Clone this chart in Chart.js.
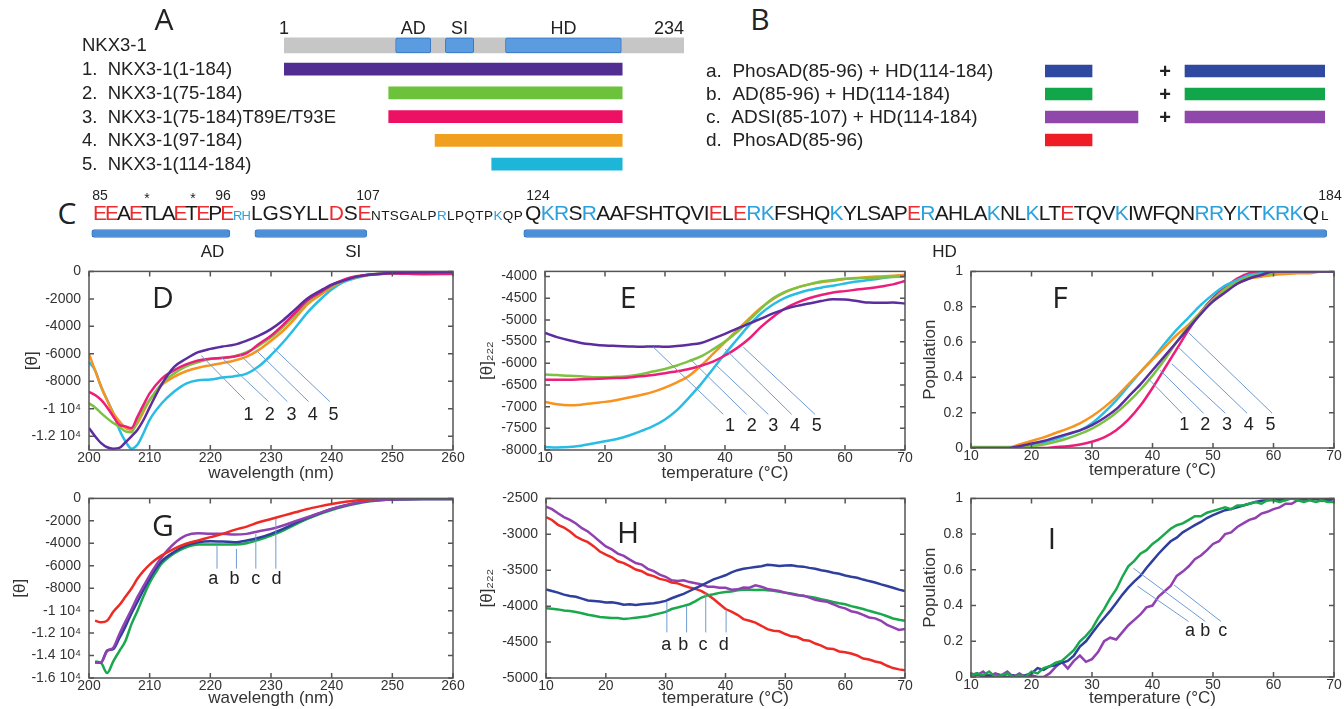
<!DOCTYPE html>
<html>
<head>
<meta charset="utf-8">
<title>NKX3-1 CD panels</title>
<script src="https://cdn.jsdelivr.net/npm/chart.js@4.4.0/dist/chart.umd.min.js"></script>
<style>
  html, body { margin: 0; background: #fff; }
  body { position: relative; width: 1344px; height: 709px; overflow: hidden; font-family: "Liberation Sans", Arial, sans-serif; color: #222; }
  canvas { position: absolute; }
  .pl { position: absolute; font-family: "Open Sans", "DejaVu Sans", sans-serif; font-size: 30px; line-height: 1; transform: translate(-50%, -50%); }
  .seq { position: absolute; line-height: 1.117; white-space: nowrap; }
  .num { position: absolute; font-size: 14px; line-height: 1; transform: translate(-50%, -50%); }
</style>
</head>
<body>
<script>
const aRows = ['NKX3-1', '1.  NKX3-1(1-184)', '2.  NKX3-1(75-184)', '3.  NKX3-1(75-184)T89E/T93E', '4.  NKX3-1(97-184)', '5.  NKX3-1(114-184)'];
const aBackbone = [1, 234];
const aConstructStart = [1, 62, 62, 89, 122];
const aConstructEnd = [198, 198, 198, 198, 198];
const aDomains = ['AD', 'SI', 'HD'];
const aDomainStart = [66, 95, 130];
const aDomainEnd = [86.5, 111.5, 197.5];

// ---------- panel B: peptide mixtures
const bRows = ['a.  PhosAD(85-96) + HD(114-184)', 'b.  AD(85-96) + HD(114-184)', 'c.  ADSI(85-107) + HD(114-184)', 'd.  PhosAD(85-96)'];
const bPeptideStart = [0, 0, 0, 0];
const bPeptideEnd = [16.8, 16.8, 33.2, 16.8];
const bHdStart = [50, 50, 50, null];
const bHdEnd = [100, 100, 100, null];

// ---------- panel C: sequence and domain bars (% of sequence line)
const seqParts = ['EEAETLAETEPE', 'RH', 'LGSYLLDSE', 'NTSGALPRLPQTPKQP', 'QKRSRAAFSHTQVIELERKFSHQKYLSAPERAHLAKNLKLTETQVKIWFQNRRYKTKRKQ', 'L'];
const seqNumbers = ['85', '*', '*', '96', '99', '107', '124', '184'];
const cDomains = ['AD', 'SI', 'HD'];
const cDomainStart = [0.3, 13.4, 35.0];
const cDomainEnd = [11.4, 22.4, 99.5];

// ---------- panel D: CD spectra of constructs 1-5
const dWavelength = [200, 201, 202, 203, 204, 205, 206, 207, 208, 209, 210, 212, 214, 216, 218, 220, 222, 224, 226, 228, 230, 232, 234, 236, 238, 240, 242, 244, 246, 248, 250, 255, 260];
const dNkx1 = [-11400, -12000, -12500, -12800, -12900, -12850, -12440, -12000, -11520, -10800, -9900, -8200, -6960, -6360, -5880, -5640, -5470, -5330, -5040, -4680, -4200, -3550, -2760, -1970, -1440, -960, -670, -400, -240, -170, -120, -60, -50];
const dNkx2 = [-9600, -9900, -10320, -10700, -11040, -11300, -11640, -11700, -10800, -10000, -9360, -8160, -7440, -6910, -6600, -6380, -6310, -6170, -5880, -5400, -4800, -4030, -3150, -2210, -1600, -1080, -650, -400, -250, -170, -120, -80, -80];
const dNkx3 = [-8760, -9000, -9360, -9900, -10560, -11160, -11280, -11400, -10560, -9700, -8880, -7800, -7200, -6770, -6480, -6360, -6290, -6190, -5950, -5280, -4680, -3890, -3000, -2110, -1560, -1000, -600, -360, -250, -200, -150, -200, -190];
const dNkx4 = [-6000, -7200, -8400, -9400, -10320, -10900, -11400, -11520, -11040, -10200, -9360, -8280, -7680, -7270, -7010, -6840, -6670, -6480, -6200, -5710, -5050, -4320, -3400, -2400, -1750, -1150, -670, -420, -260, -170, -120, -80, -80];
const dNkx5 = [-6600, -7200, -8400, -9360, -10320, -11520, -12360, -12900, -12600, -11760, -10800, -9600, -8760, -8160, -7920, -7870, -7730, -7630, -7440, -6910, -6100, -5160, -4100, -3000, -2100, -1320, -770, -480, -280, -170, -120, -80, -80];

// ---------- panel E: [θ]222 melts
const eTemp = [10, 12, 14, 16, 18, 20, 22, 24, 26, 28, 30, 32, 34, 36, 38, 40, 42, 44, 46, 48, 50, 52, 54, 56, 58, 60, 62, 64, 66, 68, 70];
const eNkx1 = [-5300, -5395, -5470, -5530, -5565, -5590, -5600, -5610, -5620, -5610, -5620, -5600, -5570, -5530, -5430, -5320, -5200, -5085, -4970, -4850, -4750, -4675, -4620, -4565, -4520, -4530, -4565, -4600, -4605, -4600, -4620];
const eNkx2 = [-6260, -6270, -6290, -6300, -6320, -6320, -6310, -6290, -6250, -6190, -6130, -6050, -5950, -5840, -5680, -5500, -5280, -5010, -4740, -4500, -4350, -4255, -4180, -4115, -4080, -4050, -4040, -4030, -4020, -4010, -4000];
const eNkx3 = [-6380, -6380, -6380, -6370, -6360, -6350, -6340, -6325, -6300, -6270, -6230, -6185, -6130, -6055, -5960, -5820, -5650, -5435, -5160, -4930, -4735, -4600, -4500, -4425, -4365, -4335, -4300, -4270, -4230, -4180, -4100];
const eNkx4 = [-6890, -6945, -6970, -6955, -6920, -6890, -6845, -6790, -6730, -6660, -6560, -6440, -6290, -6055, -5785, -5510, -5240, -4970, -4720, -4520, -4365, -4255, -4180, -4130, -4095, -4055, -4030, -4010, -3995, -3980, -3960];
const eNkx5 = [-7930, -7940, -7930, -7900, -7850, -7800, -7745, -7665, -7565, -7450, -7295, -7080, -6790, -6480, -6130, -5780, -5450, -5125, -4850, -4645, -4490, -4390, -4310, -4255, -4210, -4160, -4115, -4080, -4040, -4000, -3960];

// ---------- panel F: unfolded population
const fTemp = eTemp;
const fNkx1 = [0, 0, 0, 0, 0.01, 0.025, 0.04, 0.06, 0.08, 0.1, 0.13, 0.17, 0.22, 0.29, 0.36, 0.44, 0.52, 0.6, 0.68, 0.76, 0.83, 0.88, 0.93, 0.96, 0.98, 1, 1, 1, 1, 1, 1];
const fNkx2 = [0.005, 0.005, 0.005, 0.005, 0.005, 0.01, 0.02, 0.035, 0.055, 0.08, 0.11, 0.15, 0.2, 0.26, 0.33, 0.41, 0.5, 0.6, 0.69, 0.77, 0.84, 0.9, 0.94, 0.97, 0.98, 0.99, 1, 1, 1, 1, 1];
const fNkx3 = [0, 0, 0, 0, 0, 0, 0, 0.005, 0.01, 0.02, 0.035, 0.06, 0.1, 0.16, 0.24, 0.34, 0.45, 0.56, 0.67, 0.77, 0.85, 0.91, 0.96, 0.99, 1, 1, 1, 1, 1, 1, 1];
const fNkx4 = [0, 0, 0, 0, 0.02, 0.04, 0.06, 0.085, 0.11, 0.14, 0.18, 0.23, 0.29, 0.36, 0.43, 0.5, 0.57, 0.64, 0.7, 0.77, 0.83, 0.89, 0.93, 0.96, 0.97, 0.98, 0.985, 0.99, 0.99, 1, 1];
const fNkx5 = [0, 0, 0, 0, 0.01, 0.015, 0.03, 0.05, 0.076, 0.1, 0.14, 0.2, 0.27, 0.35, 0.43, 0.505, 0.59, 0.67, 0.74, 0.81, 0.87, 0.92, 0.95, 0.98, 0.99, 1, 1, 1, 1, 1, 1];

// ---------- panel G: CD spectra of peptide mixtures a-d
const gWavelength = [201, 202, 203, 204, 205, 206, 207, 208, 209, 210, 211, 212, 214, 216, 218, 220, 222, 224, 226, 228, 230, 232, 234, 236, 238, 240, 242, 244, 246, 248, 250, 255, 260];
const gMixA = [-14610, -14590, -13550, -13430, -12460, -11420, -10240, -9210, -8120, -7140, -6260, -5580, -4780, -4190, -3900, -3810, -3840, -3900, -3750, -3510, -3160, -2720, -2210, -1740, -1330, -945, -650, -410, -240, -150, -100, -60, -60];
const gMixB = [-14520, -14670, -15560, -14520, -13600, -12700, -11200, -10000, -8700, -7500, -6600, -5800, -4900, -4350, -4100, -4100, -4100, -4100, -3990, -3690, -3310, -2860, -2330, -1830, -1390, -1030, -720, -470, -280, -170, -100, -60, -60];
const gMixC = [-14600, -14590, -13600, -13300, -12100, -10980, -9900, -8770, -7800, -6850, -6000, -5230, -4040, -3300, -3100, -3160, -3160, -3220, -3160, -2920, -2720, -2420, -2040, -1680, -1300, -945, -650, -410, -240, -150, -100, -60, -60];
const gMixD = [-10890, -11040, -10890, -10100, -9500, -8770, -8030, -7140, -6460, -5900, -5450, -5080, -4490, -4040, -3750, -3450, -3160, -2800, -2510, -2130, -1830, -1535, -1240, -945, -710, -500, -325, -180, -90, -40, -30, -30, -30];

// ---------- panel H: [θ]222 melts of mixtures (1 °C steps)
const hTemp = [10, 11, 12, 13, 14, 15, 16, 17, 18, 19, 20, 21, 22, 23, 24, 25, 26, 27, 28, 29, 30, 31, 32, 33, 34, 35, 36, 37, 38, 39, 40, 41, 42, 43, 44, 45, 46, 47, 48, 49, 50, 51, 52, 53, 54, 55, 56, 57, 58, 59, 60, 61, 62, 63, 64, 65, 66, 67, 68, 69, 70];
const hMixA = [-3766, -3790, -3812, -3840, -3858, -3870, -3895, -3920, -3927, -3935, -3950, -3945, -3960, -3980, -3973, -3985, -3973, -3965, -3960, -3945, -3927, -3890, -3858, -3830, -3789, -3750, -3711, -3670, -3628, -3600, -3570, -3530, -3499, -3480, -3467, -3455, -3444, -3425, -3430, -3440, -3435, -3430, -3444, -3450, -3467, -3480, -3499, -3515, -3536, -3550, -3573, -3590, -3605, -3630, -3651, -3670, -3697, -3720, -3743, -3770, -3789];
const hMixB = [-4030, -4035, -4045, -4060, -4068, -4080, -4098, -4120, -4134, -4150, -4157, -4165, -4166, -4178, -4170, -4160, -4150, -4140, -4120, -4100, -4080, -4040, -4019, -3996, -3973, -3930, -3880, -3850, -3835, -3815, -3803, -3795, -3780, -3770, -3770, -3775, -3770, -3780, -3785, -3800, -3812, -3825, -3840, -3860, -3870, -3881, -3904, -3920, -3941, -3960, -3973, -4000, -4019, -4040, -4065, -4088, -4111, -4140, -4171, -4190, -4203];
const hMixC = [-2615, -2650, -2707, -2760, -2799, -2850, -2914, -2960, -3029, -3100, -3168, -3210, -3269, -3300, -3352, -3400, -3421, -3480, -3513, -3560, -3591, -3640, -3651, -3640, -3665, -3680, -3697, -3730, -3729, -3745, -3743, -3770, -3766, -3740, -3743, -3710, -3729, -3760, -3775, -3790, -3812, -3830, -3849, -3850, -3881, -3910, -3927, -3940, -3973, -4010, -4030, -4070, -4088, -4120, -4157, -4170, -4203, -4260, -4296, -4330, -4319];
const hMixD = [-2762, -2800, -2868, -2905, -2960, -3030, -3075, -3110, -3168, -3240, -3283, -3320, -3375, -3400, -3444, -3490, -3513, -3560, -3582, -3620, -3637, -3670, -3683, -3715, -3740, -3760, -3790, -3840, -3900, -3970, -4040, -4075, -4120, -4180, -4203, -4230, -4273, -4320, -4342, -4350, -4388, -4420, -4430, -4470, -4480, -4520, -4549, -4590, -4595, -4630, -4641, -4660, -4687, -4730, -4742, -4770, -4788, -4830, -4862, -4880, -4894];

// ---------- panel I: unfolded population of mixtures
const iTemp = hTemp;
const iMixA = [0.01, 0.02, 0, 0.01, 0, 0.01, 0, 0.01, 0, 0.01, 0.02, 0.05, 0.04, 0.06, 0.066, 0.08, 0.09, 0.12, 0.17, 0.2, 0.245, 0.29, 0.33, 0.37, 0.415, 0.46, 0.5, 0.535, 0.566, 0.61, 0.65, 0.69, 0.726, 0.76, 0.78, 0.81, 0.83, 0.85, 0.868, 0.89, 0.906, 0.92, 0.934, 0.94, 0.95, 0.96, 0.97, 0.98, 0.987, 0.99, 0.994, 0.99, 1, 1, 1, 1, 0.995, 1, 1, 0.99, 1];
const iMixB = [0.01, 0.02, 0.01, 0.03, 0, 0.01, 0.02, 0, 0.01, 0, 0.03, 0.02, 0.05, 0.06, 0.08, 0.09, 0.12, 0.15, 0.2, 0.23, 0.27, 0.33, 0.38, 0.44, 0.49, 0.56, 0.62, 0.65, 0.69, 0.71, 0.745, 0.77, 0.8, 0.83, 0.85, 0.86, 0.88, 0.9, 0.9, 0.92, 0.93, 0.94, 0.95, 0.94, 0.96, 0.96, 0.97, 0.98, 0.97, 0.99, 0.99, 0.98, 0.99, 1, 0.99, 0.98, 0.99, 0.98, 0.99, 0.98, 0.98];
const iMixC = [0.02, 0.01, 0.03, 0, 0.02, 0.01, 0.03, 0, 0.02, 0, 0.01, 0, 0, 0.02, 0.057, 0.085, 0.047, 0.09, 0.12, 0.085, 0.1, 0.14, 0.2, 0.22, 0.21, 0.25, 0.29, 0.32, 0.35, 0.39, 0.4, 0.45, 0.48, 0.51, 0.566, 0.59, 0.62, 0.66, 0.68, 0.71, 0.745, 0.76, 0.8, 0.81, 0.84, 0.86, 0.88, 0.89, 0.915, 0.925, 0.94, 0.95, 0.97, 0.97, 0.99, 0.99, 1, 0.995, 0.985, 0.99, 0.98];

// ---------- styling
const SANS = '"Liberation Sans", Arial, sans-serif';
const INK = '#222';
const LEADER = '#6f9bd1';
const C1 = '#5b2d9e', C2 = '#7dc242', C3 = '#ec1e79', C4 = '#f7931e', C5 = '#29bde5';
const CA = '#2e3f9e', CB = '#19a84b', CC = '#9040b0', CD = '#ee2a24';
const RED = '#ee2b2f', BLUE = '#2aa0dc';

Chart.defaults.font.family = SANS;
Chart.defaults.color = INK;

function makeCanvas(x, y, w, h) {
  const c = document.createElement('canvas');
  c.width = w; c.height = h;
  c.style.left = x + 'px'; c.style.top = y + 'px';
  document.body.appendChild(c);
  return c;
}

function addText(cls, text, x, y) {
  const d = document.createElement('div');
  d.className = cls;
  d.textContent = text;
  d.style.left = x + 'px'; d.style.top = y + 'px';
  document.body.appendChild(d);
}

// frame, inward ticks and leader lines, all in data coordinates
const framePlugin = {
  id: 'frame',
  afterDatasetsDraw(chart, args, opts) {
    const { ctx, chartArea: a, scales: { x, y } } = chart;
    ctx.save();
    ctx.strokeStyle = LEADER; ctx.lineWidth = 1;
    ctx.beginPath();
    (opts.lines || []).forEach(([x1, y1, x2, y2]) => {
      ctx.moveTo(x.getPixelForValue(x1), y.getPixelForValue(y1));
      ctx.lineTo(x.getPixelForValue(x2), y.getPixelForValue(y2));
    });
    ctx.stroke();
    ctx.fillStyle = INK; ctx.font = '18px ' + SANS;
    ctx.textAlign = 'center'; ctx.textBaseline = 'middle';
    (opts.labels || []).forEach(([t, lx, ly]) => ctx.fillText(t, x.getPixelForValue(lx), y.getPixelForValue(ly)));
    ctx.strokeStyle = '#555'; ctx.lineWidth = 1.5;
    ctx.strokeRect(a.left, a.top, a.width, a.height);
    ctx.beginPath();
    x.ticks.forEach(t => {
      const p = x.getPixelForValue(t.value);
      ctx.moveTo(p, a.bottom); ctx.lineTo(p, a.bottom - 5);
      ctx.moveTo(p, a.top); ctx.lineTo(p, a.top + 5);
    });
    y.ticks.forEach(t => {
      const p = y.getPixelForValue(t.value);
      ctx.moveTo(a.left, p); ctx.lineTo(a.left + 5, p);
      ctx.moveTo(a.right, p); ctx.lineTo(a.right - 5, p);
    });
    ctx.stroke();
    ctx.restore();
  }
};

// ticks at whole multiples of the step, inside [min, max]
const onStep = step => s => {
  const out = [];
  for (let k = Math.ceil(s.min / step - 1e-9); k <= Math.floor(s.max / step + 1e-9); k++) out.push({ value: +(k * step).toFixed(6) });
  s.ticks = out;
};
const sci = v => v === 0 ? '0' : (v <= -10000 ? (v / 10000) + ' 10\u2074' : String(v));
const plain = v => String(v);

function linePanel(o) {
  const c = makeCanvas(o.box[0], o.box[1], o.box[2] - o.box[0], o.box[3] - o.box[1]);
  return new Chart(c, {
    type: 'line',
    data: {
      datasets: o.series.map(([ys, color]) => ({
        data: o.xs.map((x, i) => ({ x, y: ys[i] })),
        borderColor: color, borderWidth: 2.5, pointRadius: 0, fill: false,
        tension: o.smooth ? 0.4 : 0, cubicInterpolationMode: o.smooth ? 'monotone' : 'default'
      }))
    },
    options: {
      responsive: false, animation: false, events: [],
      layout: { padding: { left: 0, right: o.box[2] - o.plot[2], top: o.plot[1] - o.box[1], bottom: 0 } },
      plugins: { legend: { display: false }, tooltip: { enabled: false }, frame: { lines: o.lines, labels: o.labels } },
      scales: {
        x: {
          type: 'linear', min: o.x[0], max: o.x[1],
          grid: { display: false, drawTicks: false }, border: { display: false },
          ticks: { padding: 0, color: '#333', font: { size: 14 }, maxRotation: 0, autoSkip: false },
          afterBuildTicks: onStep(o.x[2]),
          title: { display: true, text: o.xTitle, color: '#333', font: { size: 17 }, padding: { top: 0, bottom: o.xTitlePad } },
          afterFit: s => { s.height = o.box[3] - o.plot[3]; }
        },
        y: {
          type: 'linear', min: o.y[0], max: o.y[1],
          grid: { display: false, drawTicks: false }, border: { display: false },
          ticks: { padding: 8, color: '#333', font: { size: 14 }, autoSkip: false, callback: o.yFmt },
          afterBuildTicks: onStep(o.y[2]),
          title: { display: true, text: o.yTitle, color: '#333', font: { size: 17 }, padding: { top: o.yTitlePad, bottom: 0 } },
          afterFit: s => { s.width = o.plot[0] - o.box[0]; }
        }
      }
    },
    plugins: [framePlugin]
  });
}

// ---------- D
linePanel({
  box: [0, 255, 470, 485], plot: [89, 270, 453, 450],
  xs: dWavelength, smooth: true,
  series: [[dNkx1, C1], [dNkx3, C3], [dNkx2, C2], [dNkx4, C4], [dNkx5, C5]],
  x: [200, 260, 10], y: [-13000, 0, 2000], yFmt: sci,
  xTitle: 'wavelength (nm)', xTitlePad: 1, yTitle: '[\u03b8]', yTitlePad: 22,
  lines: [[218.5, -6120, 225.7, -9360], [221.8, -6240, 229.6, -9480], [224.9, -6070, 232.7, -9480], [227.6, -5760, 236.2, -9480], [230.4, -5570, 239.7, -9480]],
  labels: [['1', 226.3, -10440], ['2', 229.8, -10440], ['3', 233.4, -10440], ['4', 236.9, -10440], ['5', 240.3, -10440]]
});

// ---------- E
linePanel({
  box: [470, 255, 920, 485], plot: [545, 270, 905, 450],
  xs: eTemp, smooth: true,
  series: [[eNkx1, C1], [eNkx3, C3], [eNkx2, C2], [eNkx4, C4], [eNkx5, C5]],
  x: [10, 70, 10], y: [-8000, -3880, 500], yFmt: plain,
  xTitle: 'temperature (\u00b0C)', xTitlePad: 1, yTitle: '[\u03b8]\u2082\u2082\u2082', yTitlePad: 7,
  lines: [[28.06, -5628, 39.72, -7178], [34.17, -5899, 43.61, -7178], [38.33, -6016, 47.22, -7178], [40, -5667, 51.11, -7178], [43.06, -5628, 55, -7178]],
  labels: [['1', 40.83, -7450], ['2', 44.44, -7450], ['3', 48.06, -7450], ['4', 51.67, -7450], ['5', 55.28, -7450]]
});

// ---------- F
linePanel({
  box: [920, 255, 1344, 485], plot: [971, 268, 1334, 448],
  xs: fTemp, smooth: true,
  series: [[fNkx1, C1], [fNkx2, C2], [fNkx4, C4], [fNkx5, C5], [fNkx3, C3]],
  x: [10, 70, 10], y: [0, 1, 0.2], yFmt: plain,
  xTitle: 'temperature (\u00b0C)', xTitlePad: 4, yTitle: 'Population', yTitlePad: 0,
  lines: [[39.31, 0.393, 44.85, 0.197], [41.25, 0.44, 48.44, 0.197], [43.19, 0.477, 52.04, 0.197], [44.29, 0.57, 55.63, 0.197], [45.95, 0.654, 59.78, 0.197]],
  labels: [['1', 45.23, 0.132], ['2', 48.72, 0.132], ['3', 52.31, 0.132], ['4', 55.9, 0.132], ['5', 59.5, 0.132]]
});

// ---------- G
linePanel({
  box: [0, 482, 470, 709], plot: [89, 496, 453, 678],
  xs: gWavelength, smooth: true,
  series: [[gMixD, CD], [gMixC, CC], [gMixA, CA], [gMixB, CB]],
  x: [200, 260, 10], y: [-16000, 0, 2000], yFmt: sci,
  xTitle: 'wavelength (nm)', xTitlePad: 0, yTitle: '[\u03b8]', yTitlePad: 10,
  lines: [[221.1, -4190, 221.1, -6260], [224.3, -4500, 224.3, -6260], [227.5, -3160, 227.5, -6260], [230.8, -1830, 230.8, -6260]],
  labels: [['a', 220.5, -7140], ['b', 224.0, -7140], ['c', 227.5, -7140], ['d', 230.9, -7140]]
});

// ---------- H
linePanel({
  box: [470, 482, 920, 709], plot: [546, 496, 905, 678],
  xs: hTemp, smooth: false,
  series: [[hMixA, CA], [hMixC, CC], [hMixB, CB], [hMixD, CD]],
  x: [10, 70, 10], y: [-5000, -2500, 500], yFmt: plain,
  xTitle: 'temperature (\u00b0C)', xTitlePad: 0, yTitle: '[\u03b8]\u2082\u2082\u2082', yTitlePad: 7,
  lines: [[30.2, -3941, 30.2, -4365], [33.5, -3996, 33.5, -4365], [36.7, -3812, 36.7, -4365], [40.1, -4065, 40.1, -4365]],
  labels: [['a', 30.1, -4535], ['b', 32.95, -4535], ['c', 36.25, -4535], ['d', 39.7, -4535]]
});

// ---------- I
linePanel({
  box: [920, 482, 1344, 709], plot: [971, 498, 1334, 677],
  xs: iTemp, smooth: false,
  series: [[iMixB, CB], [iMixA, CA], [iMixC, CC]],
  x: [10, 70, 10], y: [0, 1, 0.2], yFmt: plain,
  xTitle: 'temperature (\u00b0C)', xTitlePad: 0, yTitle: 'Population', yTitlePad: 0,
  lines: [[37.49, 0.509, 45.95, 0.311], [36.83, 0.609, 48.72, 0.311], [43.57, 0.515, 51.32, 0.311]],
  labels: [['a', 46.2, 0.255], ['b', 48.7, 0.255], ['c', 51.6, 0.255]]
});

// ---------- row labels for the two construct maps (drawn unclipped, left aligned)
const rowAxis = width => ({
  type: 'category', grid: { display: false, drawTicks: false }, border: { display: false },
  ticks: { display: false },
  afterFit: s => { s.width = width; }
});
const rowLabels = (rows, size) => ({
  id: 'rowLabels',
  afterDatasetsDraw(chart) {
    const { ctx, scales: { y } } = chart;
    ctx.save();
    ctx.font = size + 'px ' + SANS; ctx.fillStyle = INK; ctx.textAlign = 'left'; ctx.textBaseline = 'middle';
    rows.forEach((r, i) => ctx.fillText(r, y.left, y.getPixelForValue(i) + 1));
    ctx.restore();
  }
});

// ---------- A: construct map
new Chart(makeCanvas(72, 20, 628, 160), {
  type: 'bar',
  data: {
    labels: aRows,
    datasets: [
      ...aDomains.map((d, i) => ({
        label: d, data: aRows.map((r, k) => k === 0 ? [aDomainStart[i], aDomainEnd[i]] : null),
        backgroundColor: '#5b9be0', borderColor: '#3a78c2', borderWidth: 1, borderSkipped: false, borderRadius: 2,
        barThickness: 15, grouped: false, order: 0
      })),
      {
        label: 'backbone', data: aRows.map((r, k) => k === 0 ? aBackbone : null),
        backgroundColor: '#c6c6c6', barThickness: 15, grouped: false, order: 1
      },
      {
        label: 'constructs', data: [null, ...aConstructStart.map((s, i) => [s, aConstructEnd[i]])],
        backgroundColor: ['transparent', '#512d91', '#6cc23a', '#ec1163', '#f0a01e', '#1eb6d8'],
        barThickness: 12, grouped: false, order: 2
      }
    ]
  },
  options: {
    indexAxis: 'y', responsive: false, animation: false, events: [],
    layout: { padding: { left: 10, right: 16, top: 13.5, bottom: 4 } },
    plugins: { legend: { display: false }, tooltip: { enabled: false } },
    scales: { x: { type: 'linear', min: 1, max: 234, display: false }, y: rowAxis(202) }
  },
  plugins: [rowLabels(aRows, 18.5), {
    id: 'aLabels',
    afterDatasetsDraw(chart) {
      const { ctx, scales: { x, y } } = chart;
      const ty = y.getPixelForValue(0) - 16;
      ctx.save();
      ctx.font = '18px ' + SANS; ctx.fillStyle = INK; ctx.textBaseline = 'middle'; ctx.textAlign = 'center';
      ctx.fillText(String(aBackbone[0]), x.getPixelForValue(aBackbone[0]), ty);
      aDomains.forEach((d, i) => ctx.fillText(d, x.getPixelForValue((aDomainStart[i] + aDomainEnd[i]) / 2), ty));
      ctx.textAlign = 'right';
      ctx.fillText(String(aBackbone[1]), x.getPixelForValue(aBackbone[1]), ty);
      ctx.restore();
    }
  }]
});

// ---------- B: peptide mixtures
const bColors = ['#2f48a0', '#12a64b', '#8f48a9', '#ee1d25'];
new Chart(makeCanvas(696, 55, 644, 100), {
  type: 'bar',
  data: {
    labels: bRows,
    datasets: [
      { label: 'peptide', data: bPeptideStart.map((s, i) => [s, bPeptideEnd[i]]), backgroundColor: bColors, barThickness: 12, grouped: false },
      { label: 'HD', data: bHdStart.map((s, i) => s === null ? null : [s, bHdEnd[i]]), backgroundColor: bColors, barThickness: 12, grouped: false }
    ]
  },
  options: {
    indexAxis: 'y', responsive: false, animation: false, events: [],
    layout: { padding: { left: 10, right: 15, top: 4.5, bottom: 3.5 } },
    plugins: { legend: { display: false }, tooltip: { enabled: false } },
    scales: { x: { type: 'linear', min: 0, max: 100, display: false }, y: rowAxis(339) }
  },
  plugins: [rowLabels(bRows, 19), {
    id: 'plus',
    afterDatasetsDraw(chart) {
      const { ctx, scales: { x, y } } = chart;
      ctx.save();
      ctx.font = 'bold 20px ' + SANS; ctx.fillStyle = INK; ctx.textAlign = 'center'; ctx.textBaseline = 'middle';
      bHdStart.forEach((s, i) => { if (s !== null) ctx.fillText('+', x.getPixelForValue(42.9), y.getPixelForValue(i) + 1); });
      ctx.restore();
    }
  }]
});

// ---------- C: domain bars under the sequence
new Chart(makeCanvas(80, 222, 1260, 40), {
  type: 'bar',
  data: {
    labels: ['seq'],
    datasets: cDomains.map((d, i) => ({
      label: d, data: [[cDomainStart[i], cDomainEnd[i]]],
      backgroundColor: '#4a8fd8', borderColor: '#3b7bc4', borderWidth: 1, borderSkipped: false, borderRadius: 3,
      barThickness: 8, grouped: false
    }))
  },
  options: {
    indexAxis: 'y', responsive: false, animation: false, events: [],
    layout: { padding: { left: 8, right: 7, top: 4, bottom: 21 } },
    plugins: { legend: { display: false }, tooltip: { enabled: false } },
    scales: { x: { type: 'linear', min: 0, max: 100, display: false }, y: { display: false } }
  },
  plugins: [{
    id: 'cLabels',
    afterDatasetsDraw(chart) {
      const { ctx, chartArea, scales: { x } } = chart;
      const at = [10.0, 21.3, 68.8];
      ctx.save();
      ctx.font = '17px ' + SANS; ctx.fillStyle = INK; ctx.textAlign = 'center'; ctx.textBaseline = 'middle';
      cDomains.forEach((d, i) => ctx.fillText(d, x.getPixelForValue(at[i]), chartArea.bottom + 11));
      ctx.restore();
    }
  }]
});

// ---------- C: sequence text (letter spacing fitted to each segment's span)
const seqBoxes = [[93, 232, 21], [233, 250, 13], [251, 371, 21], [371, 523, 13.5], [525, 1318, 21], [1321, 1332, 13.5]];
const SEQ_BASE = 220.5;
const meas = document.createElement('canvas').getContext('2d');
seqParts.forEach((p, i) => {
  const [x0, x1, fs] = seqBoxes[i];
  meas.font = fs + 'px ' + SANS;
  const ls = (x1 - x0 - meas.measureText(p).width) / p.length;
  const d = document.createElement('div');
  d.className = 'seq';
  d.style.cssText = `left:${x0}px;top:${SEQ_BASE - 0.905 * fs}px;font-size:${fs}px;letter-spacing:${ls}px`;
  d.innerHTML = [...p].map(ch => {
    const col = i === 1 ? BLUE : ('ED'.includes(ch) ? RED : ('KR'.includes(ch) ? BLUE : '#1a1a1a'));
    return `<span style="color:${col}">${ch}</span>`;
  }).join('');
  document.body.appendChild(d);
});
const numAt = [[100, 195], [147, 198], [193, 198], [223, 195], [258, 195], [368, 195], [538, 195], [1330, 195]];
seqNumbers.forEach((t, i) => addText('num', t, numAt[i][0], numAt[i][1]));

// ---------- panel letters
[['A', 164, 19], ['B', 760, 19], ['C', 67, 213], ['D', 163, 297], ['E', 628, 297], ['F', 1060, 297],
 ['G', 163, 525], ['H', 628, 532], ['I', 1052, 538]].forEach(([t, x, y]) => addText('pl', t, x, y));
</script>
</body>
</html>
